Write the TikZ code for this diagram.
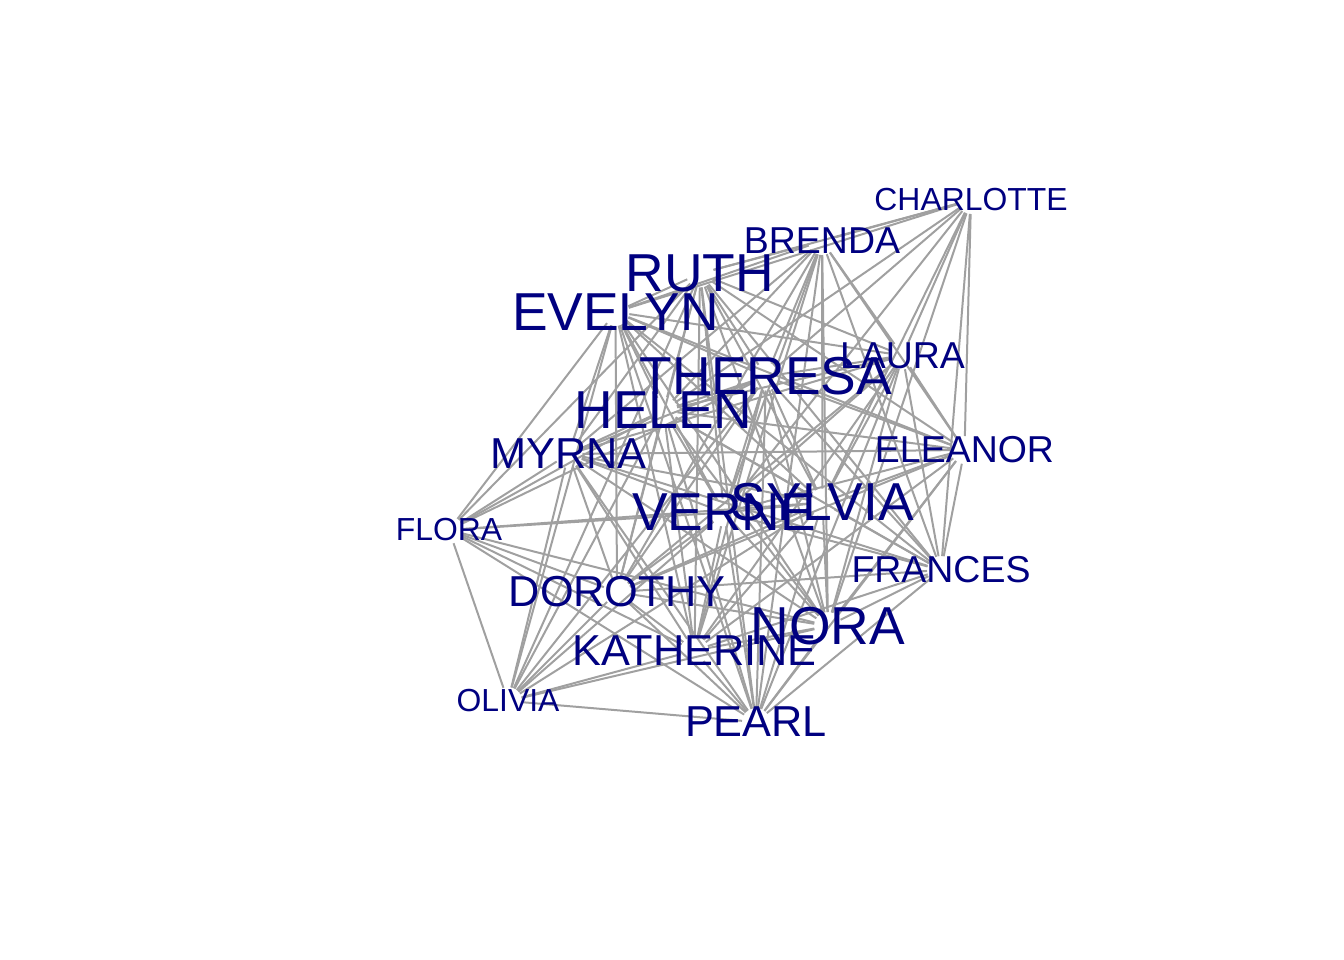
\documentclass[tikz,border=0pt]{standalone}
\usepackage{fontspec}
\setmainfont{Liberation Sans}
\definecolor{navy}{RGB}{0,0,128}
\definecolor{edgegray}{RGB}{160,160,160}
\pgfdeclarelayer{bg}
\pgfsetlayers{bg,main}
\tikzset{
  lbl/.style={text=navy, inner sep=0pt, anchor=center},
  big/.style={lbl, font=\fontsize{20.1}{21}\selectfont},
  mid/.style={lbl, font=\fontsize{16.3}{17}\selectfont},
  sml/.style={lbl, font=\fontsize{14.1}{15}\selectfont},
  tiny/.style={lbl, font=\fontsize{12.0}{13}\selectfont},
  edge/.style={draw=edgegray, line width=0.75bp, shorten >=5.25bp, shorten <=5.25bp}
}
\begin{document}
\begin{tikzpicture}[x=0.375bp, y=-0.375bp]
\useasboundingbox (0,0) rectangle (1344,960);
\node[big]  (evelyn)    at (615.5,312)   {EVELYN};
\node[sml]  (laura)     at (902.5,355.5) {LAURA};
\node[big]  (theresa)   at (766,376.5)   {THERESA};
\node[sml]  (brenda)    at (822,241)     {BRENDA};
\node[tiny] (charlotte) at (971,200)     {CHARLOTTE};
\node[sml]  (frances)   at (941,570)     {FRANCES};
\node[sml]  (eleanor)   at (964.5,450)   {ELEANOR};
\node[mid]  (pearl)     at (756,722)     {PEARL};
\node[big]  (ruth)      at (700,273.5)   {RUTH};
\node[big]  (verne)     at (724,512.5)   {VERNE};
\node[mid]  (myrna)     at (568.5,454)   {MYRNA};
\node[mid]  (katherine) at (694.5,650.5) {KATHERINE};
\node[big]  (sylvia)    at (822.5,502.5) {SYLVIA};
\node[big]  (nora)      at (828,626)     {NORA};
\node[big]  (helen)     at (663.5,410.5) {HELEN};
\node[mid]  (dorothy)   at (617,592)     {DOROTHY};
\node[tiny] (olivia)    at (508,701)     {OLIVIA};
\node[tiny] (flora)     at (449,530)     {FLORA};
\begin{pgfonlayer}{bg}
\foreach \a/\bs in {
  evelyn/{laura,theresa,brenda,charlotte,frances,eleanor,pearl,ruth,verne,myrna,katherine,sylvia,nora,helen,dorothy,olivia,flora},
  laura/{theresa,brenda,charlotte,frances,eleanor,pearl,ruth,verne,myrna,katherine,sylvia,nora,helen,dorothy},
  theresa/{brenda,charlotte,frances,eleanor,pearl,ruth,verne,myrna,katherine,sylvia,nora,helen,dorothy,olivia,flora},
  brenda/{charlotte,frances,eleanor,pearl,ruth,verne,myrna,katherine,sylvia,nora,helen,dorothy},
  charlotte/{frances,eleanor,ruth,verne,sylvia,nora,helen},
  frances/{eleanor,pearl,ruth,verne,myrna,katherine,sylvia,nora,helen,dorothy},
  eleanor/{pearl,ruth,verne,myrna,katherine,sylvia,nora,helen,dorothy},
  pearl/{ruth,verne,myrna,katherine,sylvia,nora,helen,dorothy,olivia,flora},
  ruth/{verne,myrna,katherine,sylvia,nora,helen,dorothy,olivia,flora},
  verne/{myrna,katherine,sylvia,nora,helen,dorothy,olivia,flora},
  myrna/{katherine,sylvia,nora,helen,dorothy,olivia,flora},
  katherine/{sylvia,nora,helen,dorothy,olivia,flora},
  sylvia/{nora,helen,dorothy,olivia,flora},
  nora/{helen,dorothy,olivia,flora},
  helen/{dorothy,olivia,flora},
  dorothy/{olivia,flora},
  olivia/{flora}}
  {\foreach \b in \bs {\draw[edge] (\a.center) -- (\b.center);}}
\end{pgfonlayer}
\end{tikzpicture}
\end{document}
